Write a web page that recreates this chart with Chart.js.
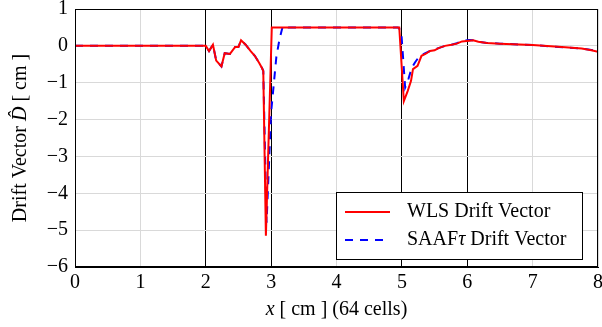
<!DOCTYPE html>
<html>
<head>
<meta charset="utf-8">
<script src="https://cdn.jsdelivr.net/npm/chart.js@4.4.0/dist/chart.umd.min.js"></script>
<style>
  html, body { margin: 0; padding: 0; background: #fff; }
  #wrap { width: 602px; height: 327px; position: relative; }
</style>
</head>
<body>
<div id="wrap"><canvas id="chart"></canvas></div>
<script>
// Drift vector along x (64 cells)
const wlsX = [0, 2.0, 2.05, 2.11, 2.16, 2.24, 2.29, 2.37, 2.45, 2.5, 2.54, 2.61, 2.69, 2.75, 2.82, 2.86, 2.88, 2.92, 3.01,
    4.96, 5.03, 5.09, 5.14, 5.17, 5.24, 5.3, 5.36, 5.43, 5.5, 5.56, 5.66, 5.76, 5.84, 5.92, 6.03, 6.09, 6.17, 6.3, 6.5,
    7.0, 7.5, 7.75, 7.9, 8.0];
const wlsY = [0, 0, -0.14, 0.03, -0.4, -0.56, -0.2, -0.22, -0.03, -0.03, 0.15, 0.03, -0.15, -0.27, -0.47, -0.6, -0.68, -5.15, 0.5,
    0.5, -1.5, -1.22, -0.95, -0.63, -0.54, -0.27, -0.22, -0.14, -0.12, -0.06, 0.0, 0.03, 0.06, 0.12, 0.14, 0.15, 0.11, 0.08, 0.06,
    0.02, -0.04, -0.07, -0.12, -0.16];

const saafX = [0, 2.0, 2.05, 2.11, 2.16, 2.24, 2.29, 2.37, 2.45, 2.5, 2.54, 2.61, 2.69, 2.75, 2.82, 2.86, 2.88, 2.93, 3.0,
    3.08, 3.13, 3.18, 3.26, 4.94, 4.99, 5.05, 5.1, 5.15, 5.2, 5.27, 5.36, 5.43, 5.5, 5.56, 5.66, 5.76, 5.84, 5.92, 6.03,
    6.09, 6.17, 6.3, 6.5, 7.0, 7.5, 7.75, 7.9, 8.0];
const saafY = [0, 0, -0.14, 0.03, -0.4, -0.56, -0.2, -0.22, -0.03, -0.03, 0.15, 0.03, -0.15, -0.27, -0.47, -0.6, -0.68, -4.8, -1.8,
    -0.3, 0.2, 0.55, 0.5, 0.5, 0.4, -1.13, -0.9, -0.6, -0.45, -0.28, -0.2, -0.14, -0.1, -0.06, 0.0, 0.03, 0.07, 0.13, 0.16,
    0.15, 0.11, 0.08, 0.06, 0.02, -0.04, -0.07, -0.11, -0.15];

const seriesNames = ['WLS Drift Vector', 'SAAF\u03c4 Drift Vector'];
const regionEdges = [2, 3, 5, 6];

const SERIF = "'Liberation Serif', 'DejaVu Serif', serif";

function toPoints(xs, ys) {
    return xs.map(function (x, i) {
        return { x: x, y: ys[i] };
    });
}

function drawParts(ctx, parts, x, y, size, align) {
    let total = 0;
    parts.forEach(function (p) {
        ctx.font = p[0] + ' ' + size + 'px ' + SERIF;
        total += ctx.measureText(p[1]).width;
    });
    let cx = align === 'left' ? x : x - total / 2;
    ctx.textAlign = 'left';
    parts.forEach(function (p) {
        ctx.font = p[0] + ' ' + size + 'px ' + SERIF;
        ctx.fillText(p[1], cx, y);
        cx += ctx.measureText(p[1]).width;
    });
}

// axis titles (with italic parts) and framed legend inside the plot
const decor = {
    id: 'decor',
    afterDraw(chart) {
        const ctx = chart.ctx;
        const a = chart.chartArea;
        ctx.save();
        ctx.strokeStyle = '#000';
        ctx.lineWidth = 1;
        ctx.strokeRect(a.left + 0.5, a.top + 0.5, a.right - a.left - 1, a.bottom - a.top - 1);

        ctx.fillStyle = '#000';
        ctx.textBaseline = 'middle';

        drawParts(ctx, [['italic', 'x'], ['normal', ' [ cm ] (64 cells)']], (a.left + a.right) / 2, 310, 20);

        ctx.save();
        ctx.translate(21, (a.top + a.bottom) / 2);
        ctx.rotate(-Math.PI / 2);
        drawParts(ctx, [['normal', 'Drift Vector '], ['italic', 'D\u0302'], ['normal', ' [ cm ]']], 0, 0, 20);
        ctx.restore();

        // legend box
        const bx = 336, by = 192, bw = 246, bh = 67;
        ctx.fillStyle = '#fff';
        ctx.fillRect(bx, by, bw, bh);
        ctx.strokeStyle = '#000';
        ctx.lineWidth = 1;
        ctx.strokeRect(bx + 0.5, by + 0.5, bw, bh);
        const rows = [
            { y: 212, color: '#ff0000', dash: [], parts: [['normal', seriesNames[0]]] },
            { y: 240, color: '#0000ff', dash: [8, 7], parts: [['normal', 'SAAF'], ['italic', '\u03c4'], ['normal', ' Drift Vector']] },
        ];
        rows.forEach(function (r) {
            ctx.strokeStyle = r.color;
            ctx.lineWidth = 2;
            ctx.setLineDash(r.dash);
            ctx.beginPath();
            ctx.moveTo(345, r.y);
            ctx.lineTo(390, r.y);
            ctx.stroke();
            ctx.setLineDash([]);
            ctx.fillStyle = '#000';
            drawParts(ctx, r.parts, 407, r.y, 20, 'left');
        });
        ctx.restore();
    },
};

new Chart(document.getElementById('chart'), {
    type: 'line',
    data: {
        datasets: [
            {
                label: seriesNames[0],
                data: toPoints(wlsX, wlsY),
                borderColor: '#ff0000',
                borderWidth: 2,
                pointRadius: 0,
                tension: 0,
                fill: false,
            },
            {
                label: seriesNames[1],
                data: toPoints(saafX, saafY),
                borderColor: '#0000ff',
                borderWidth: 2,
                borderDash: [8, 7],
                pointRadius: 0,
                tension: 0,
                fill: false,
            },
        ],
    },
    options: {
        responsive: true,
        maintainAspectRatio: false,
        animation: false,
        layout: { padding: { top: 9, right: 4, left: 0, bottom: 0 } },
        plugins: {
            legend: { display: false },
            tooltip: { enabled: false },
        },
        scales: {
            x: {
                type: 'linear',
                min: 0,
                max: 8,
                afterFit(s) {
                    s.height = 60;
                    s.paddingLeft = 0;
                    s.paddingRight = 0;
                },
                ticks: {
                    stepSize: 1,
                    color: '#000',
                    padding: 4,
                    maxRotation: 0,
                    font: { family: SERIF, size: 20 },
                },
                grid: {
                    drawTicks: false,
                    color(ctx) {
                        return regionEdges.includes(ctx.tick && ctx.tick.value) ? '#000' : '#d9d9d9';
                    },
                    lineWidth: 1,
                },
                border: { color: '#000' },
            },
            y: {
                min: -6,
                max: 1,
                afterFit(s) {
                    s.width = 75;
                    s.paddingTop = 0;
                    s.paddingBottom = 0;
                },
                ticks: {
                    stepSize: 1,
                    color: '#000',
                    padding: 7,
                    font: { family: SERIF, size: 20 },
                    callback(v) { return String(v).replace('-', '\u2212'); },
                },
                grid: { drawTicks: false, color: '#d9d9d9', lineWidth: 1 },
                border: { color: '#000' },
            },
        },
    },
    plugins: [decor],
});
</script>
</body>
</html>
